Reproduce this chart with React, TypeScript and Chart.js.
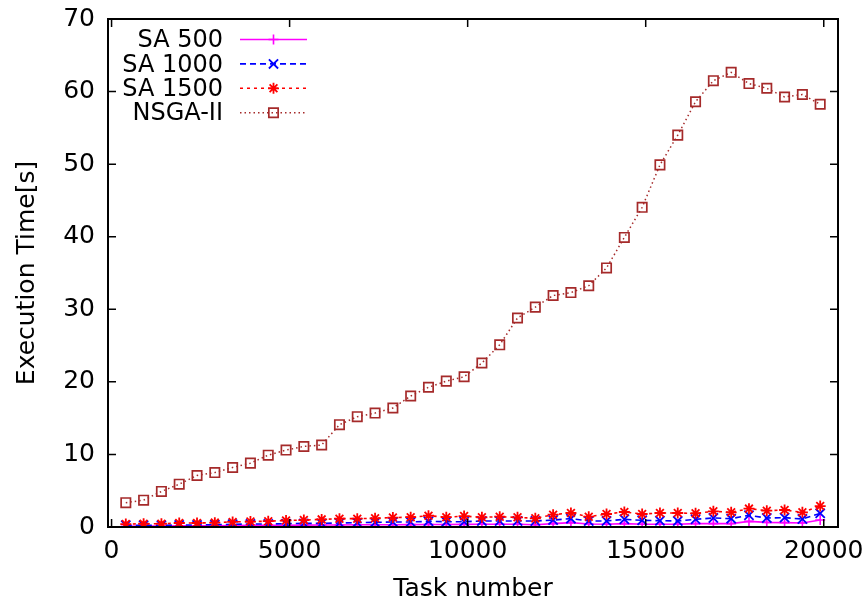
import React, { useEffect, useRef } from "react";
import { Chart, registerables } from "chart.js";

Chart.register(...registerables);

// ---------- data ----------
const TASKS = [
  400, 900, 1400, 1900, 2400, 2900, 3400, 3900, 4400, 4900,
  5400, 5900, 6400, 6900, 7400, 7900, 8400, 8900, 9400, 9900,
  10400, 10900, 11400, 11900, 12400, 12900, 13400, 13900, 14400, 14900,
  15400, 15900, 16400, 16900, 17400, 17900, 18400, 18900, 19400, 19900,
];
const SA500 = [
  0.1, 0.12, 0.14, 0.15, 0.17, 0.18, 0.2, 0.22, 0.23, 0.25,
  0.26, 0.27, 0.28, 0.3, 0.3, 0.32, 0.33, 0.35, 0.35, 0.36,
  0.37, 0.37, 0.37, 0.32, 0.46, 0.6, 0.41, 0.37, 0.46, 0.37,
  0.37, 0.37, 0.46, 0.46, 0.46, 0.78, 0.64, 0.6, 0.55, 0.96,
];
const SA1000 = [
  0.23, 0.23, 0.23, 0.28, 0.28, 0.32, 0.37, 0.41, 0.41, 0.46,
  0.5, 0.5, 0.55, 0.6, 0.64, 0.69, 0.69, 0.78, 0.73, 0.73,
  0.83, 0.83, 0.83, 0.83, 0.96, 1.15, 0.83, 0.83, 1.06, 0.92,
  0.87, 0.83, 1.06, 1.24, 1.15, 1.61, 1.24, 1.29, 1.1, 1.88,
];
const SA1500 = [
  0.4, 0.45, 0.45, 0.55, 0.55, 0.6, 0.7, 0.75, 0.8, 0.9,
  0.95, 1.05, 1.15, 1.15, 1.2, 1.3, 1.35, 1.55, 1.35, 1.5,
  1.33, 1.42, 1.33, 1.19, 1.7, 1.93, 1.42, 1.79, 2.07, 1.79,
  1.93, 1.93, 1.88, 2.16, 2.02, 2.53, 2.25, 2.34, 2.02, 2.89,
];
const NSGA2 = [
  3.35, 3.7, 4.9, 5.9, 7.1, 7.5, 8.2, 8.8, 9.9, 10.6,
  11.1, 11.3, 14.1, 15.2, 15.7, 16.4, 18.05, 19.25, 20.1, 20.7,
  22.6, 25.1, 28.8, 30.3, 31.9, 32.3, 33.25, 35.7, 39.9, 44.05,
  49.9, 54.0, 58.6, 61.5, 62.65, 61.1, 60.45, 59.25, 59.6, 58.25,
];
const SERIES_LABELS = ["SA 500", "SA 1000", "SA 1500", "NSGA-II"];
const X_TICKS = [0, 5000, 10000, 15000, 20000];
const Y_TICKS = [0, 10, 20, 30, 40, 50, 60, 70];
const X_TITLE = "Task number";
const Y_TITLE = "Execution Time[s]";

// ---------- styles ----------
const FONT = "DejaVu Sans";
const FSIZE = 25;
const LEGEND_FSIZE = 24;
const STYLES = [
  { color: "#ff00ff", dash: [] as number[], point: "cross", radius: 5, width: 1.6, pw: 1.6 },
  { color: "#0000ff", dash: [6, 4], point: "crossRot", radius: 6.5, width: 1.6, pw: 1.8 },
  { color: "#ff0000", dash: [3, 4], point: "star", radius: 5.5, width: 1.6, pw: 1.8 },
  { color: "#a52a2a", dash: [1.5, 3], point: "rect", radius: 6.6, width: 1.5, pw: 1.7 },
];

function drawMarker(ctx: CanvasRenderingContext2D, style: string, x: number, y: number, r: number) {
  ctx.beginPath();
  if (style === "cross" || style === "star") {
    ctx.moveTo(x, y - r); ctx.lineTo(x, y + r);
    ctx.moveTo(x - r, y); ctx.lineTo(x + r, y);
  }
  if (style === "crossRot" || style === "star") {
    const o = r * Math.SQRT1_2;
    ctx.moveTo(x - o, y - o); ctx.lineTo(x + o, y + o);
    ctx.moveTo(x - o, y + o); ctx.lineTo(x + o, y - o);
  }
  if (style === "rect") {
    const s = r * Math.SQRT1_2;
    ctx.rect(x - s, y - s, 2 * s, 2 * s);
  }
  ctx.stroke();
}

const framePlugin = {
  id: "gnuFrame",
  afterDatasetsDraw(chart: any) {
    const { ctx, chartArea, scales } = chart;
    const { left, right, top, bottom } = chartArea;
    const L = 8;
    ctx.save();
    ctx.strokeStyle = "#000";
    ctx.lineWidth = 1.5;
    ctx.setLineDash([]);
    ctx.beginPath();
    for (const v of X_TICKS) {
      const px = scales.x.getPixelForValue(v);
      ctx.moveTo(px, bottom); ctx.lineTo(px, bottom - L);
      ctx.moveTo(px, top); ctx.lineTo(px, top + L);
    }
    for (const v of Y_TICKS) {
      const py = scales.y.getPixelForValue(v);
      ctx.moveTo(left, py); ctx.lineTo(left + L, py);
      ctx.moveTo(right, py); ctx.lineTo(right - L, py);
    }
    ctx.stroke();
    ctx.lineWidth = 2;
    ctx.strokeRect(left, top, right - left, bottom - top);
    ctx.restore();
  },
};

const legendPlugin = {
  id: "gnuLegend",
  afterDraw(chart: any) {
    const { ctx, chartArea } = chart;
    const textRight = chartArea.left + 115;
    const lineStart = chartArea.left + 132;
    const lineEnd = chartArea.left + 199;
    const firstY = chartArea.top + 20.5;
    const rowH = 24.4;
    ctx.save();
    ctx.font = `${LEGEND_FSIZE}px "${FONT}"`;
    ctx.fillStyle = "#000";
    ctx.textAlign = "right";
    ctx.textBaseline = "middle";
    SERIES_LABELS.forEach((label, i) => {
      const st = STYLES[i];
      const y = firstY + i * rowH;
      ctx.fillText(label, textRight, y + 1.5);
      ctx.strokeStyle = st.color;
      ctx.lineWidth = st.width;
      ctx.setLineDash(st.dash);
      ctx.beginPath();
      ctx.moveTo(lineStart, y);
      ctx.lineTo(lineEnd, y);
      ctx.stroke();
      ctx.setLineDash([]);
      ctx.lineWidth = st.pw;
      drawMarker(ctx, st.point, (lineStart + lineEnd) / 2, y, st.radius);
    });
    ctx.restore();
  },
};

function zeroPadding(scale: any) {
  scale.paddingTop = 0;
  scale.paddingBottom = 0;
  scale.paddingLeft = 0;
  scale.paddingRight = 0;
}

export default function App() {
  const canvasRef = useRef<HTMLCanvasElement | null>(null);

  useEffect(() => {
    if (!canvasRef.current) return;
    const series = [SA500, SA1000, SA1500, NSGA2];
    const datasets = series.map((vals, i) => {
      const st = STYLES[i];
      return {
        label: SERIES_LABELS[i],
        data: TASKS.map((t, k) => ({ x: t, y: vals[k] })),
        borderColor: st.color,
        backgroundColor: "transparent",
        borderWidth: st.width,
        borderDash: st.dash,
        pointStyle: st.point,
        pointRadius: st.radius,
        pointBorderColor: st.color,
        pointBackgroundColor: "transparent",
        pointBorderWidth: st.pw,
        tension: 0,
        fill: false,
        order: 4 - i,
      };
    });

    const font = { family: FONT, size: FSIZE };
    const chart = new Chart(canvasRef.current, {
      type: "line",
      data: { datasets },
      options: {
        responsive: false,
        animation: false,
        layout: { padding: { top: 19, right: 28, left: 0, bottom: 0 } },
        plugins: { legend: { display: false }, tooltip: { enabled: false } },
        font,
        scales: {
          x: {
            type: "linear",
            min: -100,
            max: 20400,
            grid: { display: false, drawTicks: false },
            border: { display: false },
            afterBuildTicks: (scale: any) => {
              scale.ticks = X_TICKS.map((v) => ({ value: v }));
            },
            afterFit: (scale: any) => {
              scale.height = 78;
              zeroPadding(scale);
            },
            ticks: {
              color: "#000",
              font,
              padding: 9.5,
              maxRotation: 0,
              autoSkip: false,
              callback: (v: any) => String(v),
            },
            title: {
              display: true,
              text: X_TITLE,
              color: "#000",
              font,
              padding: { top: 0, bottom: 0.5 },
            },
          },
          y: {
            type: "linear",
            min: 0,
            max: 70,
            grid: { display: false, drawTicks: false },
            border: { display: false },
            afterBuildTicks: (scale: any) => {
              scale.ticks = Y_TICKS.map((v) => ({ value: v }));
            },
            afterFit: (scale: any) => {
              scale.width = 108;
              zeroPadding(scale);
            },
            ticks: {
              color: "#000",
              font,
              padding: 13,
              callback: (v: any) => String(v),
            },
            title: {
              display: true,
              text: Y_TITLE,
              color: "#000",
              font,
              padding: { top: 12.5, bottom: 0 },
            },
          },
        },
      } as any,
      plugins: [framePlugin, legendPlugin],
    });
    return () => chart.destroy();
  }, []);

  return (
    <div style={{ position: "absolute", left: 0, top: 0, width: 866, height: 605, background: "#fff" }}>
      <canvas ref={canvasRef} width={866} height={605} />
    </div>
  );
}
